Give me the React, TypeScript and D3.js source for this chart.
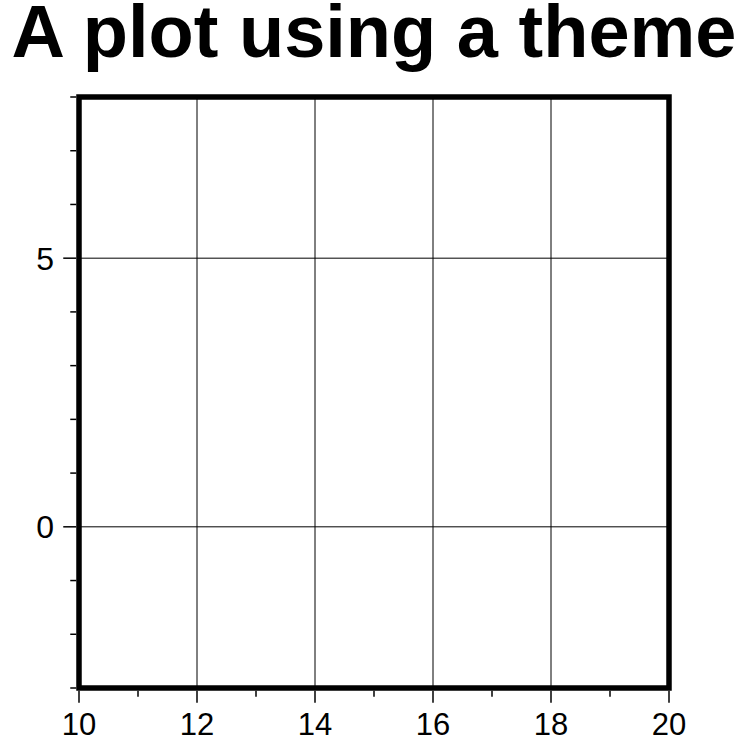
import React, { useEffect, useRef } from 'react';
import * as d3 from 'd3';

const title = "A plot using a theme";
const xDomain = [10, 20];
const yDomain = [-3, 8];
const xMajor = [10, 12, 14, 16, 18, 20];
const xMinor = [11, 13, 15, 17, 19];
const yMajor = [0, 5];
const yMinor = [-3, -2, -1, 1, 2, 3, 4, 6, 7, 8];
const xGrid = [12, 14, 16, 18];
const yGrid = [0, 5];

const W = 748;
const H = 739;

export default function App() {
  const ref = useRef<SVGSVGElement>(null);

  useEffect(() => {
    if (!ref.current) return;
    const svg = d3.select(ref.current);
    svg.selectAll("*").remove();

    const font = "'Liberation Sans', Arial, Helvetica, sans-serif";
    const x = d3.scaleLinear().domain(xDomain).range([79, 669]);
    const y = d3.scaleLinear().domain(yDomain).range([688, 97]);
    const fw = 5.5;

    svg.append("rect").attr("width", W).attr("height", H).attr("fill", "#fff");

    // grid
    svg.selectAll(".gx").data(xGrid).enter().append("line")
      .attr("x1", d => x(d)).attr("x2", d => x(d))
      .attr("y1", y(yDomain[0])).attr("y2", y(yDomain[1]))
      .attr("stroke", "#000").attr("stroke-width", 1);
    svg.selectAll(".gy").data(yGrid).enter().append("line")
      .attr("y1", d => y(d)).attr("y2", d => y(d))
      .attr("x1", x(xDomain[0])).attr("x2", x(xDomain[1]))
      .attr("stroke", "#000").attr("stroke-width", 1);

    // frame
    svg.append("rect")
      .attr("x", x(xDomain[0])).attr("y", y(yDomain[1]))
      .attr("width", x(xDomain[1]) - x(xDomain[0]))
      .attr("height", y(yDomain[0]) - y(yDomain[1]))
      .attr("fill", "none").attr("stroke", "#000").attr("stroke-width", fw)
      .attr("stroke-linecap", "square");

    const bottom = y(yDomain[0]) + fw / 2;
    const left = x(xDomain[0]) - fw / 2;

    // x ticks
    svg.selectAll(".xt").data(xMajor).enter().append("line")
      .attr("x1", d => x(d)).attr("x2", d => x(d))
      .attr("y1", bottom).attr("y2", bottom + 12)
      .attr("stroke", "#000").attr("stroke-width", 1.5);
    svg.selectAll(".xm").data(xMinor).enter().append("line")
      .attr("x1", d => x(d)).attr("x2", d => x(d))
      .attr("y1", bottom).attr("y2", bottom + 6)
      .attr("stroke", "#000").attr("stroke-width", 1.5);
    svg.selectAll(".xl").data(xMajor).enter().append("text")
      .attr("x", d => x(d)).attr("y", 735)
      .attr("text-anchor", "middle")
      .style("font-family", font).style("font-size", "31px")
      .attr("fill", "#000")
      .text(d => String(d));

    // y ticks
    svg.selectAll(".yt").data(yMajor).enter().append("line")
      .attr("y1", d => y(d)).attr("y2", d => y(d))
      .attr("x1", left).attr("x2", left - 13)
      .attr("stroke", "#000").attr("stroke-width", 1.5);
    svg.selectAll(".ym").data(yMinor).enter().append("line")
      .attr("y1", d => y(d)).attr("y2", d => y(d))
      .attr("x1", left).attr("x2", left - 6)
      .attr("stroke", "#000").attr("stroke-width", 1.5);
    svg.selectAll(".yl").data(yMajor).enter().append("text")
      .attr("x", 54).attr("y", d => y(d))
      .attr("dy", "0.36em")
      .attr("text-anchor", "end")
      .style("font-family", font).style("font-size", "32px")
      .attr("fill", "#000")
      .text(d => String(d));

    // title
    svg.append("text")
      .attr("x", (x(xDomain[0]) + x(xDomain[1])) / 2).attr("y", 57)
      .attr("text-anchor", "middle")
      .style("font-family", font).style("font-size", "74px").style("font-weight", "bold")
      .attr("fill", "#000")
      .text(title);
  }, []);

  return (
    <svg ref={ref} width={W} height={H} viewBox={`0 0 ${W} ${H}`}
      style={{ position: 'absolute', left: 0, top: 0, display: 'block' }} />
  );
}
